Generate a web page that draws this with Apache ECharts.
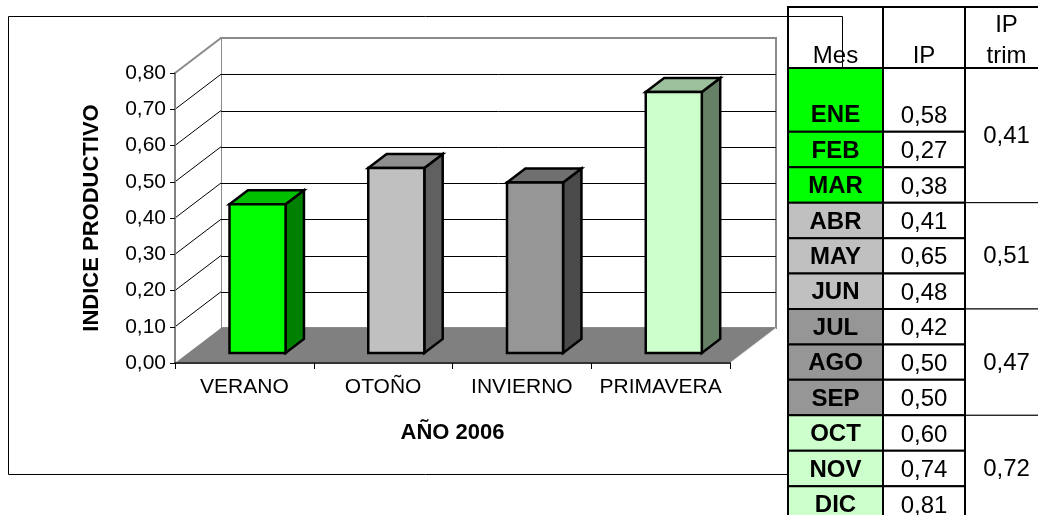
<!DOCTYPE html>
<html>
<head>
<meta charset="utf-8">
<script src="https://cdn.jsdelivr.net/npm/echarts@6/dist/echarts.min.js"></script>
<style>
html, body { margin: 0; padding: 0; background: #fff; }
#main { width: 1038px; height: 515px; }
</style>
</head>
<body>
<div id="main"></div>
<script>
// datos
var seasons = ['VERANO', 'OTOÑO', 'INVIERNO', 'PRIMAVERA'];
var seasonIP = [0.41, 0.51, 0.47, 0.72];
var yTicks = [0, 0.1, 0.2, 0.3, 0.4, 0.5, 0.6, 0.7, 0.8];
var months = ['ENE', 'FEB', 'MAR', 'ABR', 'MAY', 'JUN', 'JUL', 'AGO', 'SEP', 'OCT', 'NOV', 'DIC'];
var monthIP = [0.58, 0.27, 0.38, 0.41, 0.65, 0.48, 0.42, 0.50, 0.50, 0.60, 0.74, 0.81];
var trimIP = [0.41, 0.51, 0.47, 0.72];
var headers = ['Mes', 'IP', 'IP\ntrim'];

// estilos
var barFront = ['#00FF00', '#C0C0C0', '#969696', '#CCFFCC'];
var barTop = ['#00C000', '#8E8E8E', '#707070', '#9CC09C'];
var barSide = ['#008000', '#606060', '#4B4B4B', '#668066'];
var FONT = "'Liberation Sans', Arial, sans-serif";

// geometria 3D y tabla
var DX = 46, DY = -35;
var BAR_F0 = 0.286, BAR_F1 = 0.686, BAR_W = 0.404;
var COL_X = [0, 95, 177, 260];
var HEAD_H = 61, ENE_EXTRA = 28.4;

function fmt(v) { return v.toFixed(2).replace('.', ','); }
function px(v) { return Math.round(v) + 0.5; }

function renderWalls(params, api) {
  var cs = params.coordSys;
  var x0 = cs.x, x1 = cs.x + cs.width, yT = cs.y, yB = cs.y + cs.height;
  var kids = [];
  kids.push({ type: 'rect', shape: { x: x0 + DX, y: yT + DY, width: cs.width, height: cs.height },
    style: { fill: '#fff', stroke: '#8a8a8a', lineWidth: 2 } });
  kids.push({ type: 'polygon', shape: { points: [[x0, yT], [x0 + DX, yT + DY], [x0 + DX, yB + DY], [x0, yB]] },
    style: { fill: '#fff' } });
  kids.push({ type: 'polygon', shape: { points: [[x0, yB], [x1, yB], [x1 + DX, yB + DY], [x0 + DX, yB + DY]] },
    style: { fill: '#808080' } });
  kids.push({ type: 'line', shape: { x1: x1, y1: yB, x2: x1 + DX, y2: yB + DY },
    style: { stroke: '#e0e0e0', lineWidth: 1 } });
  var vmax = yTicks[yTicks.length - 1];
  yTicks.forEach(function (v) {
    if (v <= 0) return;
    var y = api.coord([0, v])[1];
    if (v >= vmax) {
      kids.push({ type: 'line', shape: { x1: x0, y1: y, x2: x0 + DX, y2: y + DY },
        style: { stroke: '#8a8a8a', lineWidth: 2 } });
      return;
    }
    var yy = px(y + DY);
    kids.push({ type: 'line', shape: { x1: x0 + DX, y1: yy, x2: x1 + DX, y2: yy },
      style: { stroke: '#000', lineWidth: 1 } });
    kids.push({ type: 'line', shape: { x1: x0, y1: y, x2: x0 + DX, y2: y + DY },
      style: { stroke: '#000', lineWidth: 1 } });
  });
  return { type: 'group', children: kids };
}

function renderBar(params, api) {
  var i = params.dataIndex, v = api.value(1);
  var base = api.coord([api.value(0), 0]), top = api.coord([api.value(0), v]);
  var w = api.size([1, 0])[0] * BAR_W;
  var L = base[0] + DX * BAR_F0 - w / 2, R = L + w;
  var yb = base[1] + DY * BAR_F0, yt = top[1] + DY * BAR_F0;
  var bx = DX * (BAR_F1 - BAR_F0), by = DY * (BAR_F1 - BAR_F0);
  function st(c) { return { fill: c, stroke: '#000', lineWidth: 2.5, lineJoin: 'miter' }; }
  return { type: 'group', children: [
    { type: 'polygon', shape: { points: [[R, yt], [R + bx, yt + by], [R + bx, yb + by], [R, yb]] }, style: st(barSide[i]) },
    { type: 'polygon', shape: { points: [[L, yt], [R, yt], [R + bx, yt + by], [L + bx, yt + by]] }, style: st(barTop[i]) },
    { type: 'rect', shape: { x: L, y: yt, width: w, height: yb - yt }, style: st(barFront[i]) }
  ] };
}

function cellText(text, x, y, bold, va) {
  return { type: 'text', style: { text: text, x: x, y: y, fill: '#000', align: 'center',
    verticalAlign: va || 'middle', fontFamily: FONT, fontSize: 24, fontWeight: bold ? 'bold' : 'normal', lineHeight: 31 } };
}

function renderMonth(params, api) {
  var i = params.dataIndex, cs = params.coordSys;
  var c = api.coord([0, i]), h = api.size([0, 1])[1];
  var top = c[1] - h / 2, bot = c[1] + h / 2;
  if (i === 0) top -= ENE_EXTRA;
  var xa = cs.x + COL_X[0], xb = cs.x + COL_X[1], xc = cs.x + COL_X[2];
  return { type: 'group', children: [
    { type: 'rect', shape: { x: xa, y: top, width: xb - xa, height: bot - top },
      style: { fill: barFront[Math.floor(i / 3)], stroke: '#000', lineWidth: 2 } },
    { type: 'rect', shape: { x: xb, y: top, width: xc - xb, height: bot - top },
      style: { fill: '#fff', stroke: '#000', lineWidth: 2 } },
    cellText(months[i], (xa + xb) / 2, c[1] + 1.5, true),
    cellText(fmt(api.value(0)), (xb + xc) / 2, c[1] + 2, false)
  ] };
}

function renderTrim(params, api) {
  var q = params.dataIndex, cs = params.coordSys;
  var h = api.size([0, 1])[1];
  var top = api.coord([0, q * 3])[1] - h / 2;
  var bot = api.coord([0, q * 3 + 2])[1] + h / 2;
  if (q === 0) top -= ENE_EXTRA;
  var xc = cs.x + COL_X[2], xd = cs.x + COL_X[3];
  return { type: 'group', children: [
    { type: 'rect', shape: { x: xc, y: top, width: xd - xc, height: bot - top },
      style: { fill: '#fff', stroke: '#000', lineWidth: 1 } },
    cellText(fmt(api.value(0)), (xc + xd) / 2, (top + bot) / 2 + 1, false)
  ] };
}

function renderHeader(params, api) {
  var k = params.dataIndex, cs = params.coordSys;
  var h = api.size([0, 1])[1];
  var bot = api.coord([0, 0])[1] - h / 2 - ENE_EXTRA;
  var top = bot - HEAD_H;
  var xa = cs.x + COL_X[k], xb = cs.x + COL_X[k + 1];
  return { type: 'group', children: [
    { type: 'rect', shape: { x: xa, y: top, width: xb - xa, height: HEAD_H },
      style: { fill: null, stroke: '#000', lineWidth: 2 } },
    cellText(headers[k], (xa + xb) / 2, bot + 4, false, 'bottom')
  ] };
}

var chart = echarts.init(document.getElementById('main'));
var option = {
  animation: false,
  graphic: [{
    type: 'rect', z: 0,
    shape: { x: 8.5, y: 16.5, width: 834, height: 458 },
    style: { fill: null, stroke: '#000', lineWidth: 1 }
  }],
  grid: [
    { left: 175, top: 73, width: 555, height: 290, outerBoundsMode: 'none' },
    { left: 788, top: 96.4, width: 260, height: 425.2, outerBoundsMode: 'none' }
  ],
  xAxis: [{
    type: 'category', gridIndex: 0, data: seasons, z: 5,
    name: 'AÑO 2006', nameLocation: 'middle', nameGap: 59,
    nameTextStyle: { fontFamily: FONT, fontSize: 22, fontWeight: 'bold', color: '#000' },
    axisLine: { lineStyle: { color: '#333', width: 2 } },
    axisTick: { show: true, length: 6, lineStyle: { color: '#000' } },
    axisLabel: { interval: 0, margin: 14, fontFamily: FONT, fontSize: 21, color: '#000' },
    splitLine: { show: false }
  }, {
    type: 'value', gridIndex: 1, min: 0, max: 260, show: false
  }],
  yAxis: [{
    type: 'value', gridIndex: 0, min: 0, max: 0.8, interval: 0.1, z: 5,
    name: 'INDICE PRODUCTIVO', nameLocation: 'middle', nameRotate: 90, nameGap: 72,
    nameTextStyle: { fontFamily: FONT, fontSize: 22, fontWeight: 'bold', color: '#000' },
    axisLine: { show: true, lineStyle: { color: '#808080', width: 2 } },
    axisTick: { show: true, length: 5, lineStyle: { color: '#000' } },
    axisLabel: { margin: 9, fontFamily: FONT, fontSize: 21, color: '#000', formatter: fmt },
    splitLine: { show: false }
  }, {
    type: 'category', gridIndex: 1, data: months, inverse: true, show: false
  }],
  series: [{
    type: 'custom', name: 'paredes', xAxisIndex: 0, yAxisIndex: 0, z: 1,
    renderItem: renderWalls, data: [[0, 0]], silent: true
  }, {
    type: 'custom', name: 'IP trimestral', xAxisIndex: 0, yAxisIndex: 0, z: 2,
    renderItem: renderBar,
    data: seasonIP.map(function (v, i) { return [i, v]; })
  }, {
    type: 'custom', name: 'IP trim', xAxisIndex: 1, yAxisIndex: 1, z: 10,
    renderItem: renderTrim,
    data: trimIP.map(function (v, q) { return [v, q * 3]; })
  }, {
    type: 'custom', name: 'IP', xAxisIndex: 1, yAxisIndex: 1, z: 11,
    renderItem: renderMonth,
    data: monthIP.map(function (v, i) { return [v, i]; })
  }, {
    type: 'custom', name: 'cabecera', xAxisIndex: 1, yAxisIndex: 1, z: 11,
    renderItem: renderHeader,
    data: headers.map(function (t, k) { return [0, 0]; })
  }]
};
chart.setOption(option);
</script>
</body>
</html>
